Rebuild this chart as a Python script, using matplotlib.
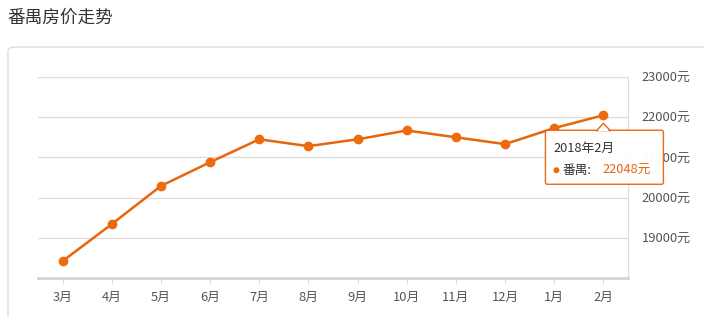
import matplotlib
matplotlib.use("Agg")
import matplotlib.pyplot as plt
from matplotlib.patches import FancyBboxPatch, Polygon, Circle

plt.rcParams['font.family'] = ['Noto Sans CJK SC', 'DejaVu Sans']

months = ['3月', '4月', '5月', '6月', '7月', '8月', '9月', '10月', '11月', '12月', '1月', '2月']
prices = [18420, 19340, 20290, 20880, 21450, 21280, 21450, 21670, 21500, 21330, 21730, 22048]
yticks = [19000, 20000, 21000, 22000, 23000]
ytick_labels = [f'{v}元' for v in yticks]
series_name = '番禺'
tooltip_title = '2018年2月'

W, H = 704, 317
fig = plt.figure(figsize=(W / 100, H / 100), dpi=100)
fig.patch.set_facecolor('white')

# card border (extends beyond right/bottom edge)
card = FancyBboxPatch((8 / W, -0.05), 1.1, (H - 47) / H + 0.05,
                      boxstyle='round,pad=0,rounding_size=0.012',
                      transform=fig.transFigure, facecolor='white',
                      edgecolor='#dcdcdc', linewidth=1.0, zorder=-5)
fig.patches.append(card)

fig.text(7 / W, 1 - 18 / H, '番禺房价走势', fontsize=12.7, color='#333333', va='center', ha='left')

ax = fig.add_axes([38 / W, 1 - 278 / H, (628 - 38) / W, (278 - 77) / H])
ax.set_zorder(2)
ax.set_facecolor('none')
x = list(range(len(months)))
ax.set_xlim(-0.5, len(months) - 0.5)
ax.set_ylim(18000, 23000)

for v in yticks:
    ax.axhline(v, color='#dddddd', linewidth=0.9, zorder=0)

ax.plot(x, prices, color='#e8650c', linewidth=1.8, marker='o', markersize=6,
        markerfacecolor='#ee6a0e', markeredgecolor='#ee6a0e', zorder=3, clip_on=False)

for s in ['top', 'left']:
    ax.spines[s].set_visible(False)
ax.spines['right'].set_color('#dddddd')
ax.spines['right'].set_linewidth(0.9)
ax.spines['bottom'].set_color('#d4d4d4')
ax.spines['bottom'].set_linewidth(2.0)

ax.yaxis.tick_right()
ax.set_yticks(yticks)
ax.set_yticklabels(ytick_labels)
ax.tick_params(axis='y', length=0, pad=10, labelsize=9.3, labelcolor='#555555')
ax.set_xticks(x)
ax.set_xticklabels(months)
ax.tick_params(axis='x', length=4, width=0.8, color='#dddddd', pad=5, labelsize=9.3,
               labelcolor='#555555', direction='out')

# tooltip anchored to last point (pixel coords)
px, py = x[-1], prices[-1]
pt = ax.transData.transform((px, py))
bx0, bx1 = pt[0] - 58, pt[0] + 60
by_top = pt[1] - 15
by_bot = by_top - 54
box = FancyBboxPatch((bx0, by_bot), bx1 - bx0, by_top - by_bot,
                     boxstyle='round,pad=0,rounding_size=2',
                     transform=None, facecolor='white', edgecolor='#e8650c',
                     linewidth=1.0, alpha=0.97, zorder=10)
fig.patches.append(box)
tri = Polygon([(pt[0] - 7, by_top - 0.5), (pt[0], by_top + 7), (pt[0] + 7, by_top - 0.5)],
              closed=True, transform=None, facecolor='white', edgecolor='#e8650c',
              linewidth=1.0, zorder=11)
fig.patches.append(tri)
cover = Polygon([(pt[0] - 6, by_top - 1.2), (pt[0] + 6, by_top - 1.2), (pt[0], by_top + 5)],
                closed=True, transform=None, facecolor='white', edgecolor='none', zorder=12)
fig.patches.append(cover)
fig.text((bx0 + 8) / W, (by_top - 18) / H, tooltip_title, fontsize=9.2, color='#333333',
         va='center', ha='left', zorder=13)
fig.patches.append(Circle((bx0 + 11, by_top - 40), 3, transform=None,
                          facecolor='#ee6a0e', edgecolor='none', zorder=13))
fig.text((bx0 + 17) / W, (by_top - 40) / H, f'{series_name}:', fontsize=9.2, color='#333333',
         va='center', ha='left', zorder=13)
fig.text((bx0 + 57) / W, (by_top - 40) / H, f'{py}元', fontsize=9.2, color='#e8650c',
         va='center', ha='left', zorder=13)

fig.savefig('out.png', dpi=100, facecolor='white')
